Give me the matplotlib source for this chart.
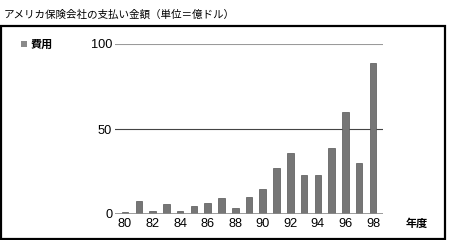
import matplotlib
matplotlib.use('Agg')
from matplotlib import pyplot as plt
from matplotlib.patches import Rectangle

plt.rcParams['font.family'] = ['Noto Sans CJK JP', 'DejaVu Sans']

years = list(range(80, 99))
payments = [1, 7.5, 1.8, 6, 2, 5, 6.7, 9.2, 3.3, 9.8, 14.9, 27, 35.9,
            22.7, 22.7, 38.8, 60.2, 30, 89]
year_labels = ['80', '82', '84', '86', '88', '90', '92', '94', '96', '98']
y_ticks = [0, 50, 100]

title = 'アメリカ保険会社の支払い金額（単位＝億ドル）'
legend_label = '費用'
x_unit = '年度'

W, H = 450, 240
fig = plt.figure(figsize=(W / 100, H / 100), dpi=100)

# outer frame
fig.patches.append(Rectangle((1 / W, 1 - 239 / H), 444 / W, 213 / H,
                             transform=fig.transFigure, fill=False,
                             edgecolor='black', linewidth=1.6))

fig.text(4 / W, 1 - 15 / H, title, fontsize=7.6, va='center', ha='left')

# legend
fig.patches.append(Rectangle((21 / W, 1 - 47 / H), 6 / W, 6 / H,
                             transform=fig.transFigure, facecolor='#8a8a8a',
                             edgecolor='none'))
fig.text(31 / W, 1 - 44 / H, legend_label, fontsize=8, fontweight='bold',
         va='center', ha='left')

ax = fig.add_axes([115 / W, 1 - 214 / H, 268 / W, 170 / H])
ax.bar(years, payments, width=0.48, color='#767676', edgecolor='#555555',
       linewidth=0.5, zorder=3)
ax.set_xlim(79.27, 98.73)
ax.set_ylim(0, 100)

ax.axhline(100, color='#9a9a9a', linewidth=1.5, zorder=1)
ax.axhline(50, color='#444444', linewidth=0.8, zorder=1)
ax.axhline(0, color='#8a8a8a', linewidth=1.2, zorder=4)

for s in ax.spines.values():
    s.set_visible(False)
ax.set_facecolor('none')

ax.set_yticks(y_ticks)
ax.set_yticklabels([str(t) for t in y_ticks], family='Liberation Sans',
                   fontsize=9.2)
ax.set_xticks([int(l) for l in year_labels])
ax.set_xticklabels(year_labels, family='Liberation Sans', fontsize=9.2)
ax.tick_params(length=0, pad=2)
ax.tick_params(axis='x', pad=3)

fig.text(417 / W, 1 - 223 / H, x_unit, fontsize=8, fontweight='bold',
         va='center', ha='center')

fig.savefig('out.png', dpi=100, facecolor='white')
